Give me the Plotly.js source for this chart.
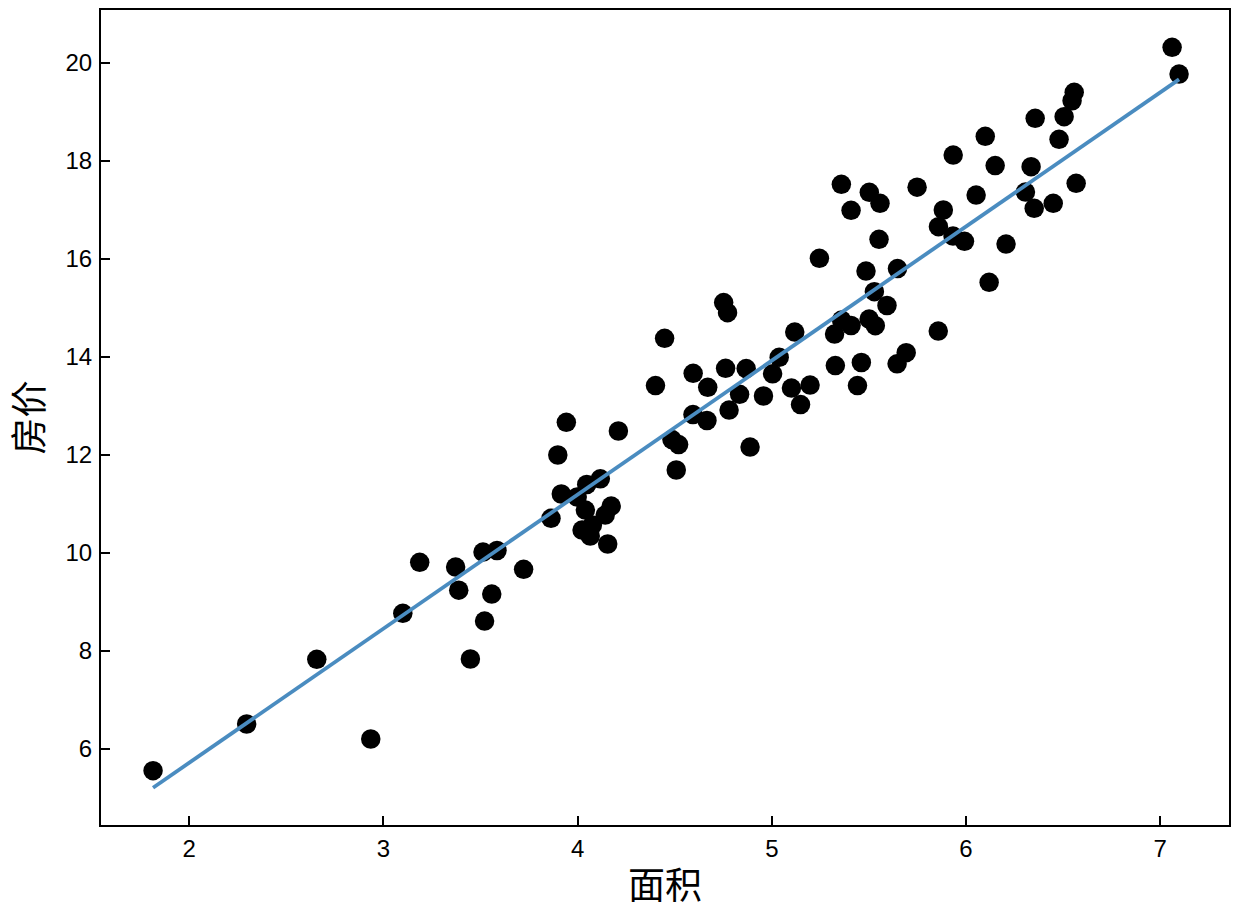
<!DOCTYPE html>
<html>
<head>
<meta charset="utf-8">
<script src="https://cdn.plot.ly/plotly-3.0.1.min.js"></script>
<style>html,body{margin:0;padding:0;background:#fff;}#chart{width:1236px;height:916px;}</style>
</head>
<body>
<div id="chart"></div>
<script>
// 面积 (area) values of the scatter points
const area = [1.814, 2.296, 2.657, 2.935, 3.100, 3.187, 3.372, 3.388, 3.448, 3.521,
  3.513, 3.558, 3.585, 3.722, 3.863, 3.898, 3.916, 3.942, 3.998, 4.023,
  4.047, 4.040, 4.065, 4.076, 4.117, 4.142, 4.155, 4.173, 4.210, 4.401,
  4.448, 4.486, 4.508, 4.520, 4.594, 4.595, 4.666, 4.670, 4.752, 4.772,
  4.762, 4.780, 4.834, 4.868, 4.888, 4.957, 5.004, 5.038, 5.101, 5.118,
  5.148, 5.197, 5.245, 5.323, 5.327, 5.358, 5.359, 5.408, 5.408, 5.441,
  5.461, 5.485, 5.501, 5.502, 5.528, 5.533, 5.557, 5.552, 5.593, 5.645,
  5.647, 5.692, 5.748, 5.857, 5.858, 5.883, 5.934, 5.933, 5.992, 6.052,
  6.099, 6.119, 6.150, 6.206, 6.306, 6.335, 6.351, 6.356, 6.449, 6.479,
  6.505, 6.546, 6.557, 6.567, 7.061, 7.097];
// 房价 (price) values of the scatter points
const price = [5.551, 6.504, 7.824, 6.198, 8.763, 9.804, 9.708, 9.235, 7.831, 8.606,
  10.014, 9.157, 10.045, 9.661, 10.702, 11.994, 11.198, 12.661, 11.137, 10.463,
  11.392, 10.871, 10.341, 10.565, 11.508, 10.769, 10.178, 10.953, 12.484, 13.412,
  14.376, 12.310, 11.688, 12.208, 12.820, 13.661, 12.698, 13.376, 15.106, 14.898,
  13.763, 12.912, 13.233, 13.759, 12.157, 13.198, 13.651, 13.988, 13.361, 14.504,
  13.024, 13.422, 16.008, 14.463, 13.820, 17.518, 14.749, 14.637, 16.988, 13.412,
  13.882, 15.749, 14.769, 17.355, 15.327, 14.633, 17.131, 16.396, 15.045, 13.855,
  15.800, 14.082, 17.459, 14.524, 16.653, 16.994, 18.116, 16.463, 16.355, 17.300,
  18.498, 15.518, 17.902, 16.300, 17.361, 17.878, 17.029, 18.865, 17.131, 18.437,
  18.898, 19.224, 19.396, 17.539, 20.314, 19.769];
// fitted line at its two ends
const fitArea = [1.814, 7.097];
const fitPrice = [5.204, 19.66];

const xTicks = [2, 3, 4, 5, 6, 7];
const yTicks = [6, 8, 10, 12, 14, 16, 18, 20];

const tickFont = {family: 'Liberation Sans, Arial, sans-serif', size: 24, color: '#000'};
const titleFont = {family: 'Noto Sans CJK SC, sans-serif', size: 37, color: '#000'};

const traces = [
  {x: area, y: price, type: 'scatter', mode: 'markers',
   marker: {color: '#000', size: 19.5, line: {width: 0}}, hoverinfo: 'skip'},
  {x: fitArea, y: fitPrice, type: 'scatter', mode: 'lines',
   line: {color: '#4a8cc0', width: 3.8}, hoverinfo: 'skip'}
];

const axisCommon = {
  showgrid: false, zeroline: false, showline: true, linecolor: '#000', linewidth: 2,
  mirror: true, ticks: 'inside', ticklen: 9, tickwidth: 2, tickcolor: '#000',
  tickfont: tickFont
};

const layout = {
  width: 1236, height: 916,
  margin: {l: 101, r: 7, t: 10, b: 91},
  paper_bgcolor: '#fff', plot_bgcolor: '#fff',
  showlegend: false,
  xaxis: Object.assign({}, axisCommon, {
    range: [1.546, 7.354], tickmode: 'array', tickvals: xTicks,
    ticktext: xTicks.map(String), ticklabelstandoff: 1,
    title: {text: '面积', font: titleFont, standoff: 12}
  }),
  yaxis: Object.assign({}, axisCommon, {
    range: [4.443, 21.076], tickmode: 'array', tickvals: yTicks,
    ticktext: yTicks.map(String), ticklabelstandoff: 2,
    title: {text: '房价', font: titleFont, standoff: 14}
  })
};

Plotly.newPlot('chart', traces, layout, {displayModeBar: false, staticPlot: true});
</script>
</body>
</html>
